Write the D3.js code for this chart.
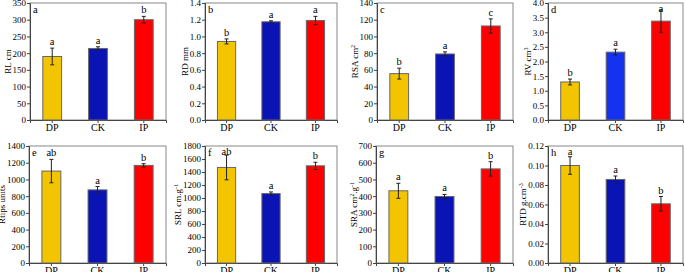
<!DOCTYPE html>
<html>
<head>
<meta charset="utf-8">
<script src="https://cdn.jsdelivr.net/npm/d3@7"></script>
<style>
  body { margin: 0; background: #fff; }
</style>
</head>
<body>
<div id="chart"></div>
<script>
const treatments = ['DP', 'CK', 'IP'];

const rlMean = [190, 214, 300];
const rlErr = [25, 5, 10];
const rlLetters = ['a', 'a', 'b'];

const rdMean = [0.94, 1.175, 1.19];
const rdErr = [0.03, 0.012, 0.05];
const rdLetters = ['b', 'a', 'a'];

const rsaMean = [55.5, 79, 112.5];
const rsaErr = [6.5, 2.5, 8.5];
const rsaLetters = ['b', 'a', 'c'];

const rvMean = [1.3, 2.32, 3.38];
const rvErr = [0.1, 0.1, 0.38];
const rvLetters = ['b', 'a', 'a'];

const rtipsMean = [1100, 875, 1168];
const rtipsErr = [140, 40, 20];
const rtipsLetters = ['ab', 'a', 'b'];

const srlMean = [1470, 1068, 1495];
const srlErr = [190, 25, 55];
const srlLetters = ['ab', 'a', 'b'];

const sraMean = [432, 398, 563];
const sraErr = [45, 12, 43];
const sraLetters = ['a', 'a', 'b'];

const rtdMean = [0.100, 0.0857, 0.0607];
const rtdErr = [0.009, 0.0035, 0.0075];
const rtdLetters = ['a', 'a', 'b'];

const panels = [
  { tag: 'a', label: ['RL cm'], mean: rlMean, err: rlErr, letters: rlLetters, max: 350, step: 50, fmt: d3.format('d') },
  { tag: 'b', label: ['RD mm'], mean: rdMean, err: rdErr, letters: rdLetters, max: 1.4, step: 0.2, fmt: d3.format('.1f') },
  { tag: 'c', label: ['RSA cm', '2'], mean: rsaMean, err: rsaErr, letters: rsaLetters, max: 140, step: 20, fmt: d3.format('d') },
  { tag: 'd', label: ['RV cm', '3'], mean: rvMean, err: rvErr, letters: rvLetters, max: 4.0, step: 0.5, fmt: d3.format('.1f'), blue: '#1432f0' },
  { tag: 'e', label: ['Rtips units'], mean: rtipsMean, err: rtipsErr, letters: rtipsLetters, max: 1400, step: 200, fmt: d3.format('d') },
  { tag: 'f', label: ['SRL cm.g', '-1'], mean: srlMean, err: srlErr, letters: srlLetters, max: 1800, step: 200, fmt: d3.format('d') },
  { tag: 'g', label: ['SRA cm', '2', '.g', '-1'], mean: sraMean, err: sraErr, letters: sraLetters, max: 700, step: 100, fmt: d3.format('d') },
  { tag: 'h', label: ['RTD g.cm', '-3'], mean: rtdMean, err: rtdErr, letters: rtdLetters, max: 0.12, step: 0.02, fmt: d3.format('.2f') }
];

const colors = ['#f2c500', '#0a14b4', '#ff0000'];
const font = '"Liberation Serif", "DejaVu Serif", serif';

// plot boxes [left, top, right, bottom]
const boxes = [
  [30, 3, 166, 120], [205, 3, 337, 120], [377, 3, 513, 120], [548, 3, 683, 120],
  [29, 146, 166, 263], [205, 146, 337, 263], [376, 146, 513, 263], [548, 146, 683, 263]
];

const svg = d3.select('#chart').append('svg')
  .attr('width', 685)
  .attr('height', 272)
  .style('font-family', font);

panels.forEach((p, i) => {
  const [l, t, r, b] = boxes[i];
  const width = r - l;
  const height = b - t;
  const g = svg.append('g').attr('transform', `translate(${l}, ${t})`);

  const x = d3.scaleBand().domain(treatments).range([0, width]).paddingInner(0.59).paddingOuter(0.28);
  const y = d3.scaleLinear().domain([0, p.max]).range([height, 0]);

  // frame
  g.append('rect')
    .attr('width', width).attr('height', height)
    .attr('fill', 'none').attr('stroke', '#888').attr('stroke-width', 1);

  const ticks = d3.range(0, p.max + p.step / 2, p.step);
  const yAxis = g.append('g')
    .call(d3.axisLeft(y).tickValues(ticks).tickFormat(p.fmt).tickSize(3).tickPadding(1));
  yAxis.attr('font-family', null);
  yAxis.select('.domain').attr('stroke', '#444');
  yAxis.selectAll('.tick line').attr('stroke', '#444');
  yAxis.selectAll('text')
    .style('font-family', font).style('font-size', '9px').attr('fill', '#000');

  const xAxis = g.append('g')
    .attr('transform', `translate(0, ${height})`)
    .call(d3.axisBottom(x).tickSize(3).tickPadding(1));
  xAxis.attr('font-family', null);
  xAxis.select('.domain').attr('stroke', '#444');
  xAxis.selectAll('.tick line').attr('stroke', '#444');
  xAxis.selectAll('text')
    .style('font-family', font).style('font-size', '10px').attr('fill', '#000');

  const bars = treatments.map((k, j) => ({ k, v: p.mean[j], e: p.err[j], s: p.letters[j], c: (j === 1 && p.blue) ? p.blue : colors[j] }));

  g.selectAll('.bar').data(bars).enter().append('rect')
    .attr('class', 'bar')
    .attr('x', d => x(d.k))
    .attr('y', d => y(d.v))
    .attr('width', x.bandwidth())
    .attr('height', d => height - y(d.v))
    .attr('fill', d => d.c)
    .attr('stroke', '#666')
    .attr('stroke-width', 1);

  const cx = d => x(d.k) + x.bandwidth() / 2;
  g.selectAll('.err').data(bars).enter().append('line')
    .attr('x1', cx).attr('x2', cx)
    .attr('y1', d => y(d.v - d.e)).attr('y2', d => y(d.v + d.e))
    .attr('stroke', '#222').attr('stroke-width', 1);
  [-1, 1].forEach(sg => {
    g.selectAll('.cap').data(bars).enter().append('line')
      .attr('x1', d => cx(d) - 2).attr('x2', d => cx(d) + 2)
      .attr('y1', d => y(d.v + sg * d.e)).attr('y2', d => y(d.v + sg * d.e))
      .attr('stroke', '#222').attr('stroke-width', 1);
  });

  g.selectAll('.sig').data(bars).enter().append('text')
    .attr('x', cx)
    .attr('y', d => Math.max(y(d.v + d.e) - 3, 9))
    .attr('text-anchor', 'middle')
    .attr('fill', '#000')
    .style('font-family', font)
    .style('font-size', '10.5px')
    .text(d => d.s);

  g.append('text')
    .attr('x', 3).attr('y', 10)
    .attr('fill', '#000')
    .style('font-family', font)
    .style('font-size', '10.5px')
    .text(p.tag);

  // y label
  const w = yAxis.node().getBBox().width;
  const lab = g.append('text')
    .attr('transform', `translate(${-w - 1.5}, ${height / 2}) rotate(-90)`)
    .attr('text-anchor', 'middle')
    .attr('fill', '#000')
    .style('font-family', font)
    .style('font-size', '9px');
  p.label.forEach((part, k) => {
    const sup = k % 2 === 1;
    lab.append('tspan')
      .attr('baseline-shift', sup ? 'super' : null)
      .style('font-size', sup ? '6px' : null)
      .text(part);
  });
});
</script>
</body>
</html>
